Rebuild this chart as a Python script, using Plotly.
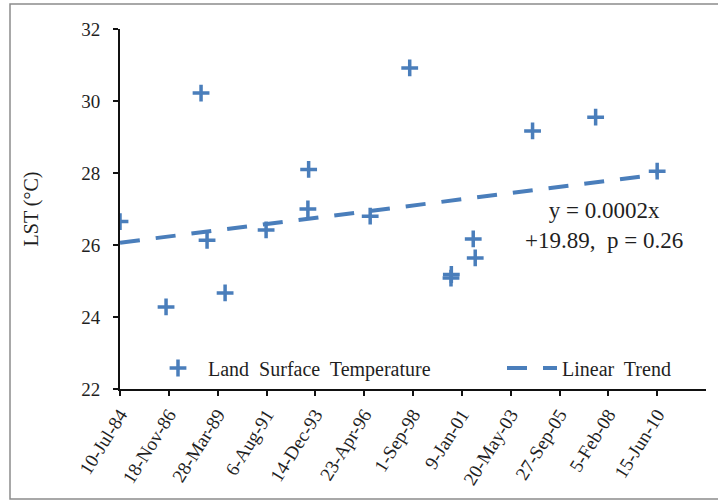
import pandas as pd
import plotly.graph_objects as go

# Observation dates and land surface temperature (°C)
DATES = ["1984-07-10", "1986-09-30", "1988-06-08", "1988-09-22", "1989-08-06",
         "1991-07-30", "1993-08-18", "1993-08-05", "1996-08-07", "1998-07-05",
         "2000-07-02", "2000-07-08", "2001-07-29", "2001-09-02", "2004-06-09",
         "2007-06-26", "2010-06-15"]
LST = [26.65, 24.28, 30.22, 26.13, 24.67,
       26.42, 28.10, 27.00, 26.80, 30.92,
       25.08, 25.18, 26.17, 25.64, 29.17,
       29.55, 28.05]

TICK_LABELS = ["10-Jul-84", "18-Nov-86", "28-Mar-89", "6-Aug-91", "14-Dec-93",
               "23-Apr-96", "1-Sep-98", "9-Jan-01", "20-May-03", "27-Sep-05",
               "5-Feb-08", "15-Jun-10"]
Y_TICKS = [22, 24, 26, 28, 30, 32]

# Linear trend on spreadsheet date serials: y = SLOPE * x + INTERCEPT
SLOPE = 0.0002
INTERCEPT = 19.89
P_VALUE = 0.26

BLUE = "#4a7ebb"
TEXT = "#1f1f1f"
FONT = "Liberation Serif"
SP = "\u00a0"

dates = pd.to_datetime(DATES)
tick_dates = pd.to_datetime(TICK_LABELS, format="%d-%b-%y")
step = tick_dates[1] - tick_dates[0]
x_range = [tick_dates[0], tick_dates[-1] + step]

epoch = pd.Timestamp("1899-12-30")


def serial(d):
    return (d - epoch).days


trend_x = [dates.min(), dates.max()]
trend_y = [SLOPE * serial(d) + INTERCEPT for d in trend_x]

fig = go.Figure()
fig.add_trace(go.Scatter(
    x=dates, y=LST, mode="markers",
    name=f"Land{SP} Surface{SP} Temperature", legend="legend",
    marker=dict(symbol="cross-thin", size=12, color=BLUE,
                line=dict(color=BLUE, width=3.5)),
))
fig.add_trace(go.Scatter(
    x=trend_x, y=trend_y, mode="lines",
    name=f"Linear{SP} Trend", legend="legend2",
    line=dict(color=BLUE, width=4, dash="20px,16px"),
))

W, H = 718, 501
L, R, T, B = 120, 12, 29, 112
pw, ph = W - L - R, H - T - B


def px_x(v):
    return (v - L) / pw


def px_y(v):
    return (H - B - v) / ph


fig.add_shape(type="rect", xref="paper", yref="paper",
              x0=px_x(10), x1=px_x(722), y0=px_y(499), y1=px_y(4),
              line=dict(color="#8c8c8c", width=1.5), layer="below")

fig.add_annotation(
    xref="paper", yref="paper", x=px_x(604), y=px_y(225),
    xanchor="center", yanchor="middle",
    text=(f"y{SP}={SP}{SLOPE:g}x<br>"
          f"+{INTERCEPT:g},{SP} p{SP}={SP}{P_VALUE:g}"),
    showarrow=False, align="center",
    font=dict(family=FONT, size=23, color=TEXT),
)

legend_common = dict(orientation="h", xanchor="left", yanchor="middle",
                     bgcolor="rgba(0,0,0,0)", itemwidth=50,
                     font=dict(family=FONT, size=20, color=TEXT))

fig.update_layout(
    width=W, height=H,
    margin=dict(l=L, r=R, t=T, b=B),
    paper_bgcolor="white", plot_bgcolor="white",
    font=dict(family=FONT, size=19, color=TEXT),
    showlegend=True,
    legend=dict(x=px_x(148), y=px_y(368), **legend_common),
    legend2=dict(x=px_x(502), y=px_y(368), **legend_common),
    xaxis=dict(
        type="date", range=x_range,
        tickmode="array", tickvals=list(tick_dates), ticktext=TICK_LABELS,
        tickangle=-58, showgrid=False, zeroline=False,
        showline=True, linecolor="#111", linewidth=2,
        ticks="outside", ticklen=5, tickwidth=2, tickcolor="#111",
        tickfont=dict(family=FONT, size=19, color=TEXT),
    ),
    yaxis=dict(
        range=[22, 32], tickmode="array", tickvals=Y_TICKS,
        showgrid=False, zeroline=False,
        showline=True, linecolor="#111", linewidth=2,
        ticks="outside", ticklen=5, tickwidth=2, tickcolor="#111",
        ticklabelstandoff=9,
        tickfont=dict(family=FONT, size=19, color=TEXT),
        title=dict(text="LST (°C)", standoff=37,
                   font=dict(family=FONT, size=20, color=TEXT)),
    ),
)

fig.write_html("out.html")
